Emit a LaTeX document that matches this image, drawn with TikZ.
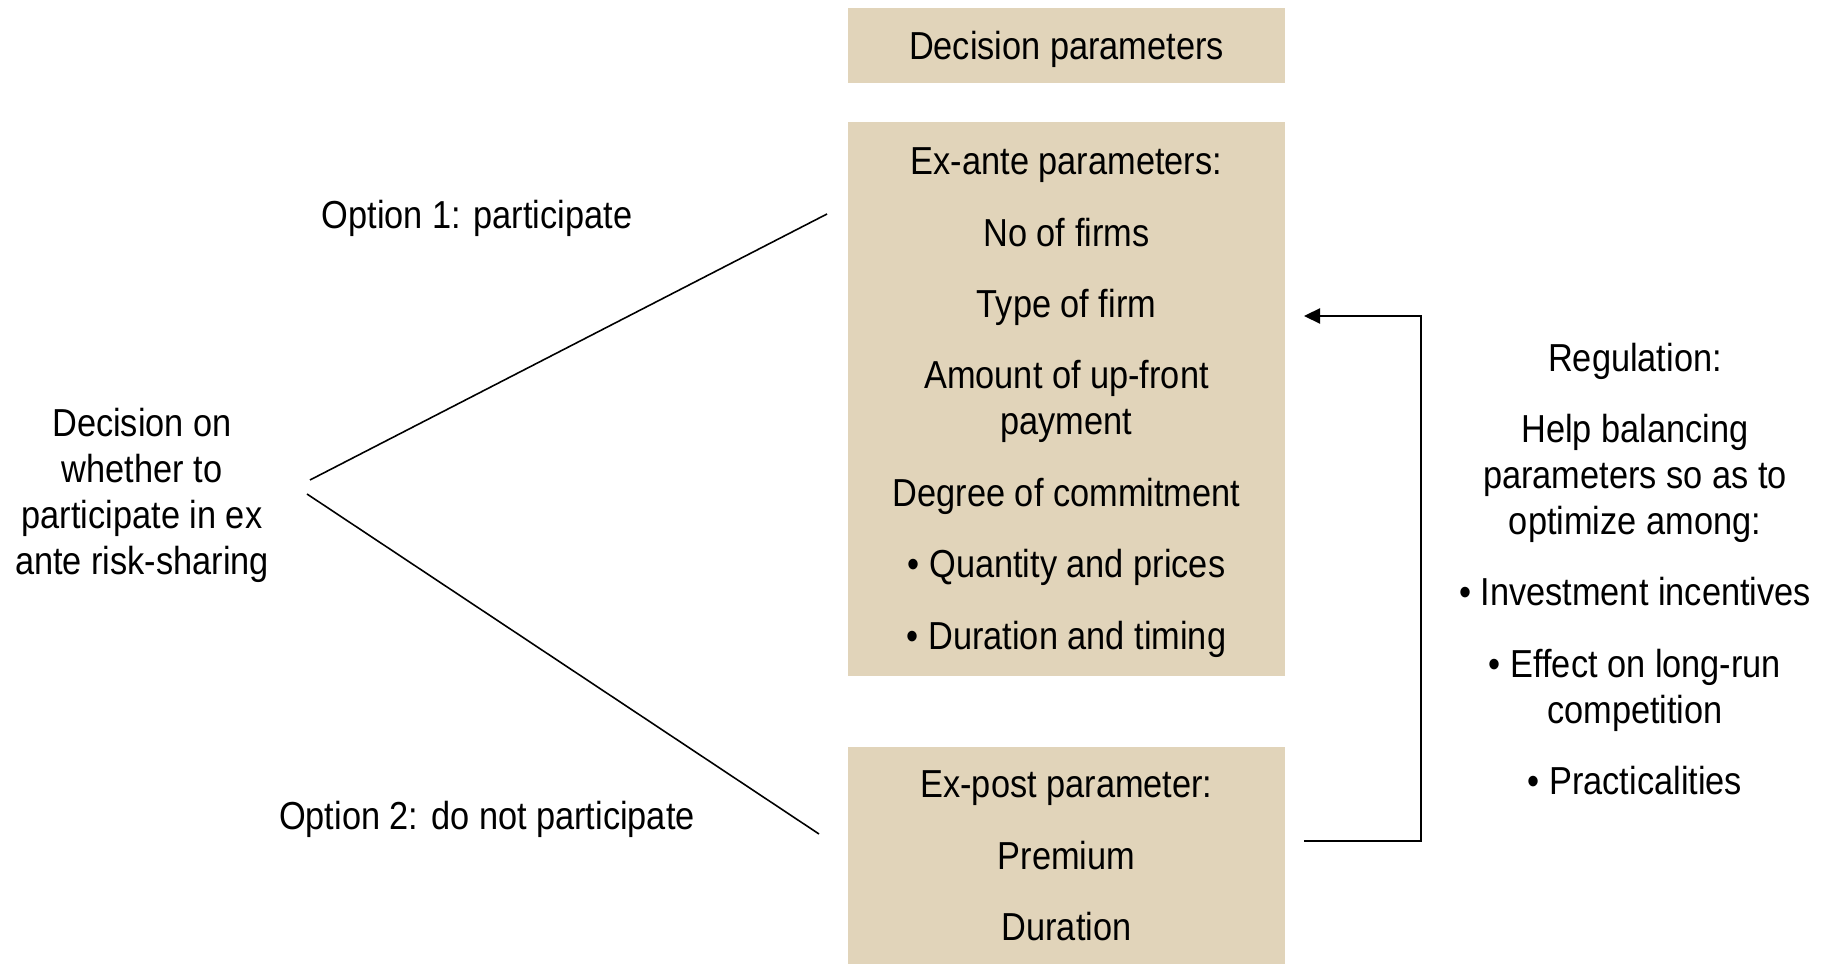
\documentclass[tikz,border=0pt]{standalone}
\usepackage{fontspec}
\setmainfont[FakeStretch=0.88]{Liberation Sans}
\usepackage{xcolor}
\usepackage{tikz}
\usetikzlibrary{arrows.meta,positioning,calc}
\definecolor{parambg}{RGB}{225,212,186}
\tikzset{
  param/.style={fill=parambg, inner sep=0pt, align=center, font=\fontsize{11.1}{13.1}\selectfont},
  plain/.style={inner sep=0pt, align=center, font=\fontsize{11.1}{13.1}\selectfont},
  branch/.style={line width=0.45pt},
  arrow/.style={-{Triangle[length=0.16cm,width=0.15cm]}, line width=0.65pt},
}
\newcommand{\pgap}{\\[7.2pt]}
% box text sits a little low in its box
\newcommand{\boxtext}[2][0.035cm]{\raisebox{-#1}[\height][\depth]{\parbox{4.37cm}{\centering #2}}}
\begin{document}
\begin{tikzpicture}[x=0.01cm,y=-0.01cm]
\useasboundingbox (0,0) rectangle (1835,964);
\node[param, minimum height=0.75cm] (dec) at (1066.5,45.5) {\boxtext{Decision parameters}};
\node[param, minimum height=5.54cm] (exante) at (1066.5,399) {\boxtext{Ex-ante parameters:\pgap No of firms\pgap Type of firm\pgap Amount of up-front\\payment\pgap Degree of commitment\pgap \textbullet\ Quantity and prices\pgap \textbullet\ Duration and timing}};
\node[param, minimum height=2.18cm] (expost) at (1066.5,856) {\boxtext[0cm]{Ex-post parameter:\pgap Premium\pgap Duration}};
\node[plain] (choice) at (142,495.5) {Decision on\\whether to\\participate in ex\\ante risk-sharing};
\node[plain] (opt1) at (477,218.5) {Option 1: participate};
\node[plain] (opt2) at (487,819.5) {Option 2: do not participate};
\node[plain] (reg) at (1635,569) {Regulation:\pgap Help balancing\\parameters so as to\\optimize among:\pgap \textbullet\ Investment incentives\pgap \textbullet\ Effect on long-run\\competition\pgap \textbullet\ Practicalities};
% branches
\coordinate (b1s) at (310,480);
\coordinate (b1e) at (827,214);
\coordinate (b2s) at (307,494);
\coordinate (b2e) at (819,834);
\draw[branch] (b1s) -- (b1e);
\draw[branch] (b2s) -- (b2e);
% feedback
\coordinate (fbin) at (1304,841);
\coordinate (fbout) at (1304,316);
\draw[arrow] (fbin) -- (1421,841) -- (1421,316) -- (fbout);
\end{tikzpicture}
\end{document}
